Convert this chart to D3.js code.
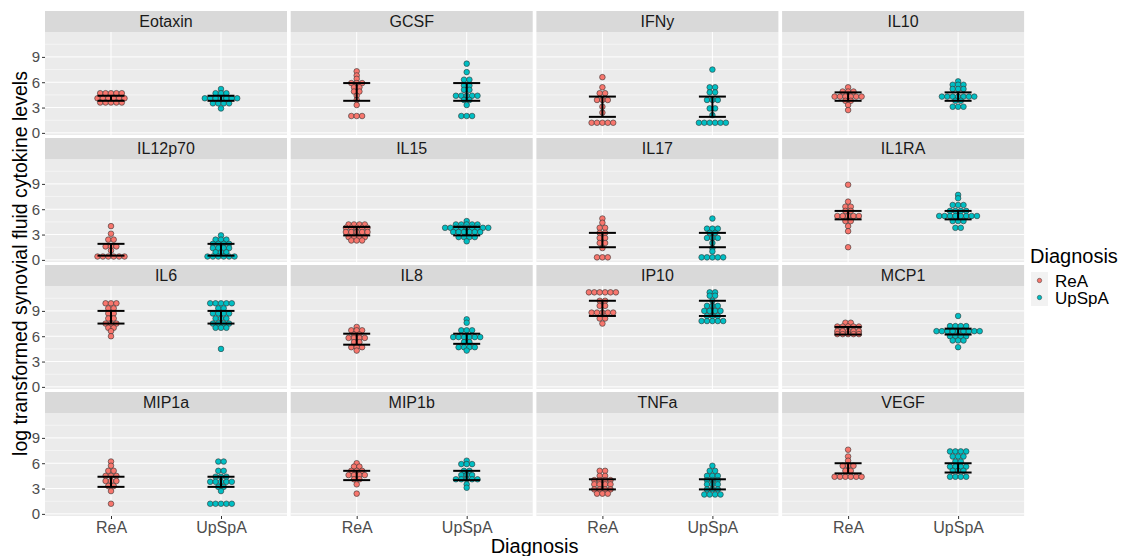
<!DOCTYPE html>
<html>
<head>
<meta charset="utf-8">
<script src="https://cdn.jsdelivr.net/npm/d3@7"></script>
<style>
  body { margin: 0; background: #fff; }
  text { font-family: "Liberation Sans", Arial, sans-serif; }
</style>
</head>
<body>
<svg id="chart" width="1130" height="556"></svg>
<script>
// facet names, in facet_wrap order
const cytokines = ["Eotaxin","GCSF","IFNy","IL10","IL12p70","IL15","IL17","IL1RA",
                   "IL6","IL8","IP10","MCP1","MIP1a","MIP1b","TNFa","VEGF"];
const groups = ["ReA","UpSpA"];
const groupColors = ["#F8766D","#00BFC4"];
const yTicks = [0,3,6,9];
const yMinor = [1.5,4.5,7.5,10.5];

// dot values (already in their stacking bins)
const reaValues = [
  [4.7,4.7,4.7,4.7,4.7,4.1,4.1,4.1,4.1,4.1,4.1,3.6,3.6,3.6,3.6,3.6],
  [7.3,6.8,6.4,5.9,5.9,5.9,5.4,5.4,4.9,4.9,4.4,3.9,3.3,2.0,2.0,2.0],
  [6.6,5.4,4.7,4.7,3.9,3.9,3.9,3.1,2.4,1.2,1.2,1.2,1.2,1.2],
  [5.4,4.9,4.9,4.9,4.3,4.3,4.3,4.3,4.3,4.3,3.8,3.8,3.3,2.7],
  [4.0,3.1,2.4,2.4,1.6,1.6,1.6,1.1,0.4,0.4,0.4,0.4,0.4,0.4],
  [4.2,4.2,4.2,4.2,3.8,3.8,3.8,3.8,3.8,3.3,3.3,3.3,3.3,3.3,2.7,2.7,2.7,2.7,2.3,2.3,2.3],
  [4.9,4.4,3.8,3.8,3.2,3.2,2.6,2.6,2.0,2.0,1.4,0.3,0.3,0.3],
  [8.9,6.9,6.3,6.3,5.8,5.8,5.2,5.2,5.2,5.2,5.2,4.6,4.6,4.0,3.4,1.5],
  [9.9,9.9,9.9,9.3,9.3,8.7,8.7,8.1,8.1,7.5,7.5,7.5,7.0,7.0,6.6,6.0],
  [7.1,6.7,6.7,6.7,6.2,6.2,5.8,5.8,5.8,5.8,5.3,5.3,4.7,4.7,4.7,4.3],
  [11.2,11.2,11.2,11.2,11.2,11.2,10.2,10.2,9.6,9.6,8.8,8.8,8.8,8.8,8.8,8.1,8.1,7.5],
  [7.6,7.6,7.15,7.15,7.15,7.15,7.15,6.6,6.6,6.6,6.6,6.6,6.25,6.25,6.25,6.25,6.25],
  [6.2,5.7,5.1,5.1,4.5,4.5,4.5,3.9,3.9,3.9,3.3,3.3,2.7,1.2],
  [6.0,5.6,5.6,5.1,5.1,5.1,4.6,4.6,4.6,4.6,4.1,4.1,3.5,2.4],
  [5.1,5.1,4.5,4.5,4.0,4.0,4.0,4.0,3.5,3.5,3.5,3.5,2.9,2.9,2.9,2.9,2.4,2.4,2.4],
  [7.6,6.8,6.3,5.7,5.7,5.7,5.1,5.1,4.4,4.4,4.4,4.4,4.4,4.4]
];
const upspaValues = [
  [5.2,4.7,4.7,4.7,4.1,4.1,4.1,4.1,4.1,4.1,4.1,3.5,3.5,3.5,3.5,2.9],
  [8.2,7.2,6.3,6.3,5.6,5.6,5.1,5.1,4.4,4.4,4.4,4.4,4.4,3.9,3.9,3.3,2.0,2.0,2.0],
  [7.5,5.4,5.4,4.8,4.8,3.9,3.9,3.9,2.9,2.9,2.1,1.2,1.2,1.2,1.2,1.2,1.2],
  [6.1,5.7,5.7,5.7,5.2,5.2,5.2,4.3,4.3,4.3,4.3,4.3,4.3,4.3,3.8,3.8,3.1,3.1,3.1],
  [2.9,2.4,2.4,2.4,1.9,1.9,1.9,1.9,1.4,1.4,1.4,1.4,0.9,0.9,0.9,0.4,0.4,0.4,0.4,0.4,0.4],
  [4.6,4.2,4.2,4.2,4.2,4.2,3.8,3.8,3.8,3.8,3.8,3.8,3.8,3.8,3.8,3.3,3.3,3.3,3.3,3.3,3.3,2.7,2.7,2.7,2.7,2.2],
  [4.9,3.7,3.7,3.7,3.2,3.2,2.6,2.6,2.6,2.0,1.4,1.0,0.3,0.3,0.3,0.3,0.3],
  [7.7,7.3,6.5,6.5,6.5,5.8,5.8,5.8,5.8,5.2,5.2,5.2,5.2,5.2,5.2,5.2,5.2,4.6,4.6,4.6,3.8,3.8],
  [9.9,9.9,9.9,9.9,9.9,9.3,9.3,8.7,8.7,8.7,8.7,8.1,8.1,8.1,7.5,7.5,7.5,7.5,7.0,7.0,7.0,4.5],
  [8.0,7.6,6.7,6.7,6.7,5.9,5.9,5.9,5.9,5.9,5.9,5.3,5.3,4.7,4.7,4.7,4.7,4.3],
  [11.2,11.2,10.8,10.8,10.2,9.6,9.6,9.6,9.0,9.0,9.0,9.0,8.4,8.4,8.4,7.8,7.8,7.8,7.8,7.8],
  [8.4,7.2,7.2,7.2,7.2,6.6,6.6,6.6,6.6,6.6,6.6,6.6,6.6,6.6,6.0,6.0,6.0,6.0,5.5,5.5,5.5,4.7],
  [6.2,6.2,5.1,5.1,4.4,4.4,4.4,3.8,3.8,3.8,3.8,3.8,3.2,3.2,2.7,1.2,1.2,1.2,1.2,1.2],
  [6.3,5.9,5.9,5.9,5.1,5.1,4.6,4.6,4.6,4.1,4.1,4.1,4.1,4.1,3.5,3.1],
  [5.7,5.1,5.1,4.5,4.5,4.5,4.0,4.0,4.0,3.5,3.5,3.5,2.9,2.9,2.9,2.3,2.3,2.3,2.3],
  [7.4,7.4,7.4,7.4,6.8,6.8,6.8,6.2,6.2,5.6,5.6,5.6,5.6,5.1,5.1,5.1,4.4,4.4,4.4,4.4]
];
// error bar ends [low, high]
const reaBars = [[3.8,4.4],[3.8,5.9],[1.9,4.3],[3.8,4.8],[0.5,1.9],[2.9,3.9],[1.5,3.2],[4.8,5.8],
                 [7.5,9.0],[5.0,6.3],[8.4,10.2],[6.2,7.1],[3.2,4.4],[4.0,5.1],[2.9,4.1],[4.8,6.0]];
const upspaBars = [[3.8,4.4],[3.8,5.9],[1.9,4.3],[3.8,4.8],[0.5,1.9],[2.9,3.9],[1.5,3.2],[4.8,5.8],
                   [7.5,9.0],[5.1,6.3],[8.4,10.2],[6.2,6.9],[3.2,4.4],[4.0,5.1],[2.9,4.1],[4.9,6.0]];

const svg = d3.select('#chart');
svg.append('rect').attr('width',1130).attr('height',556).attr('fill','#fff');

const left = 45, top0 = 11, panelW = 242, colStep = 245.7;
const stripH = 21, panelH = 103, rowStep = 127;
const dotR = 2.8, dotStep = 5.4;

cytokines.forEach(function(name, k) {
  let col = k % 4, row = Math.floor(k / 4);
  let px = left + col*colStep;
  let sy = top0 + row*rowStep;
  let py = sy + stripH;

  let x = d3.scalePoint().domain(groups).range([px, px+panelW]).padding(0.6);
  let y = d3.scaleLinear().domain([-0.25, 11.95]).range([py+panelH, py]);

  let g = svg.append('g');
  g.append('rect').attr('x',px).attr('y',py).attr('width',panelW).attr('height',panelH).attr('fill','#EBEBEB');
  g.selectAll('.minor').data(yMinor).enter().append('line')
    .attr('x1',px).attr('x2',px+panelW).attr('y1',d=>y(d)).attr('y2',d=>y(d))
    .attr('stroke','#fff').attr('stroke-width',0.5);
  g.selectAll('.major').data(yTicks).enter().append('line')
    .attr('x1',px).attr('x2',px+panelW).attr('y1',d=>y(d)).attr('y2',d=>y(d))
    .attr('stroke','#fff').attr('stroke-width',1);
  g.selectAll('.vgrid').data(groups).enter().append('line')
    .attr('x1',d=>x(d)).attr('x2',d=>x(d)).attr('y1',py).attr('y2',py+panelH)
    .attr('stroke','#fff').attr('stroke-width',1);

  // strip
  g.append('rect').attr('x',px).attr('y',sy).attr('width',panelW).attr('height',stripH).attr('fill','#D9D9D9');
  g.append('text').attr('x',px+panelW/2).attr('y',sy+stripH/2+5.5)
    .attr('text-anchor','middle').attr('font-size','16px').attr('fill','#1A1A1A').text(name);

  // dots
  let sets = [reaValues[k], upspaValues[k]];
  sets.forEach(function(vals, gi) {
    let bins = d3.groups(vals, v => v);
    bins.forEach(function(b) {
      let n = b[1].length;
      b[1].forEach(function(v, i) {
        g.append('circle')
          .attr('cx', x(groups[gi]) + (i - (n-1)/2)*dotStep)
          .attr('cy', y(v))
          .attr('r', dotR)
          .attr('fill', groupColors[gi])
          .attr('stroke', '#333').attr('stroke-width', 0.6);
      });
    });
  });

  // error bars
  let bars = [reaBars[k], upspaBars[k]];
  bars.forEach(function(b, gi) {
    let cx = x(groups[gi]), hw = 13.5;
    g.append('line').attr('x1',cx).attr('x2',cx).attr('y1',y(b[0])).attr('y2',y(b[1]))
      .attr('stroke','#000').attr('stroke-width',2);
    b.forEach(function(v) {
      g.append('line').attr('x1',cx-hw).attr('x2',cx+hw).attr('y1',y(v)).attr('y2',y(v))
        .attr('stroke','#000').attr('stroke-width',2);
    });
  });

  // axes
  if (col == 0) {
    let ax = g.append('g').attr('transform','translate(' + px + ',0)')
      .call(d3.axisLeft(y).tickValues(yTicks).tickSize(3).tickPadding(2));
    ax.select('.domain').remove();
    ax.selectAll('line').attr('stroke','#333');
    ax.selectAll('text').attr('font-size','15px').attr('fill','#4D4D4D')
      .style('font-family','"Liberation Sans", Arial, sans-serif');
  }
  if (row == 3) {
    let ax = g.append('g').attr('transform','translate(0,' + (py+panelH) + ')')
      .call(d3.axisBottom(x).tickSize(3).tickPadding(3));
    ax.select('.domain').remove();
    ax.selectAll('line').attr('stroke','#333');
    ax.selectAll('text').attr('font-size','16px').attr('fill','#4D4D4D')
      .style('font-family','"Liberation Sans", Arial, sans-serif');
  }
});

// axis titles
svg.append('text').attr('x', left + (3*colStep+panelW)/2).attr('y', 553)
  .attr('text-anchor','middle').attr('font-size','20px').attr('fill','#000').text('Diagnosis');
svg.append('text').attr('transform','translate(27,' + (top0 + (3*rowStep+stripH+panelH)/2) + ') rotate(-90)')
  .attr('text-anchor','middle').attr('font-size','19.5px').attr('fill','#000')
  .text('log transformed synovial fluid cytokine levels');

// legend
let lg = svg.append('g').attr('transform','translate(1030,0)');
lg.append('text').attr('x',0).attr('y',263).attr('font-size','20px').attr('fill','#000').text('Diagnosis');
groups.forEach(function(gname, i) {
  let ky = 272 + i*17;
  lg.append('rect').attr('x',1).attr('y',ky).attr('width',17).attr('height',17).attr('fill','#F2F2F2');
  lg.append('circle').attr('cx',9.5).attr('cy',ky+8.5).attr('r',2.2)
    .attr('fill',groupColors[i]).attr('stroke','#333').attr('stroke-width',0.5);
  lg.append('text').attr('x',25).attr('y',ky+14.5).attr('font-size','17px').attr('fill','#000').text(gname);
});
</script>
</body>
</html>
